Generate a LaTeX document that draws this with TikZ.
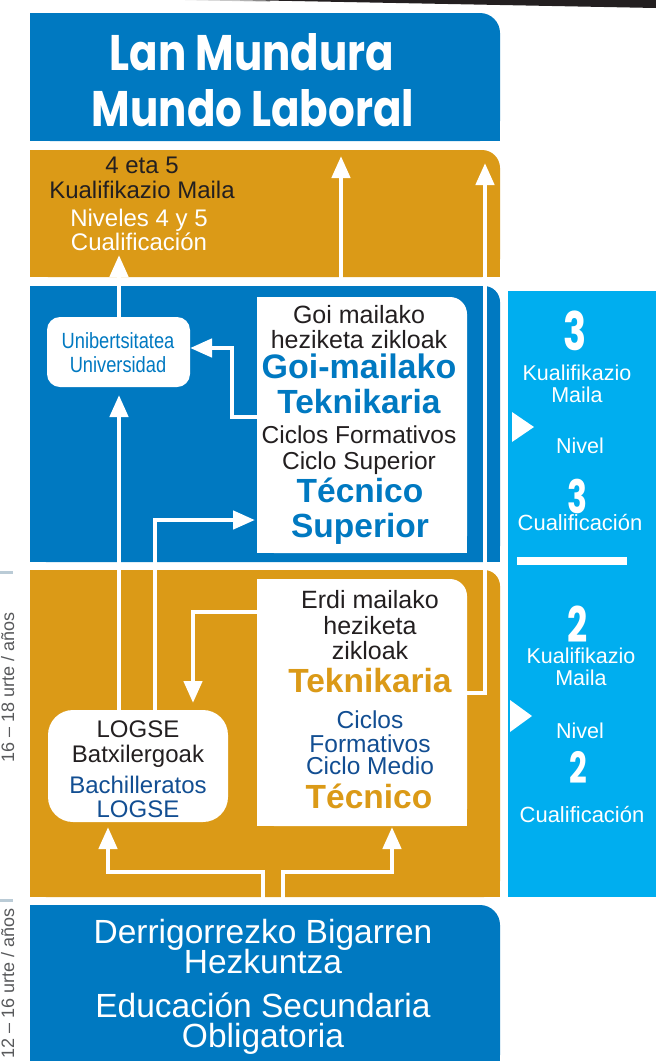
\documentclass[tikz,border=0pt]{standalone}
\usepackage{fontspec}
\usepackage{graphicx}
\setmainfont{Liberation Sans}
\newfontfamily\condfont[FakeStretch=0.83]{Liberation Sans}
\newfontfamily\dispfont{Poppins}
\usetikzlibrary{arrows.meta}
\newcommand\fsz[1]{\fontsize{#1}{#1}\selectfont}
\definecolor{dblue}{HTML}{0079C1}
\definecolor{gold}{HTML}{DB9A17}
\definecolor{lblue}{HTML}{00AEEF}
\definecolor{ink}{HTML}{231F20}
\definecolor{navy}{HTML}{124E92}
\definecolor{markc}{HTML}{BACBD6}
\definecolor{agegray}{HTML}{58595B}
\newcommand\trfill[3]{%
  \fill[#1] (#2.south west) rectangle ([xshift=-#3]#2.north east);
  \fill[#1] (#2.south west) rectangle ([yshift=-#3]#2.north east);
  \fill[#1,rounded corners=#3] (#2.south west) rectangle (#2.north east);}
\newcommand\dig[2]{{\dispfont\bfseries\fsz{#1}\scalebox{0.72}[1]{#2}}}
\begin{document}
\begin{tikzpicture}[x=1pt,y=-1pt,
  txt/.style={anchor=base,inner sep=0pt,outer sep=0pt},
  box/.style={anchor=north west,inner sep=0pt,outer sep=0pt,draw=none},
  flow/.style={draw=white,line width=4.5pt,line join=miter,-{Triangle[width=18pt,length=22pt]}},
  ink24/.style={txt,text=ink,font=\fsz{24}},
  ink25/.style={txt,text=ink,font=\fsz{25}},
  navy25/.style={txt,text=navy,font=\fsz{24.5}},
  wh24/.style={txt,text=white,font=\fsz{24}},
  wh22/.style={txt,text=white,font=\fsz{21.5}},
  bigb/.style={txt,text=dblue,font=\bfseries\fsz{33.5}},
  bigg/.style={txt,text=gold,font=\bfseries\fsz{33.5}},
  bot/.style={txt,text=white,font=\fsz{33.5},text height=24pt,text depth=5pt},
  digit/.style={txt,text=white,text depth=0pt},
  age/.style={anchor=base east,inner sep=0pt,rotate=90,text=agegray,font=\fsz{18}}]
\useasboundingbox (0,0) rectangle (656,1061);

% top dark stroke
\fill[gray!45] (185,0) -- (270,0) -- (270,1.8) -- cycle;
\fill[ink] (240,0) -- (656,0) -- (656,8) -- cycle;

% band boxes
\node[box,minimum width=470pt,minimum height=128pt] (title) at (30,13) {};
\trfill{dblue}{title}{20pt}
\node[box,minimum width=470pt,minimum height=127pt] (gold1) at (30,150) {};
\trfill{gold}{gold1}{18pt}
\node[box,minimum width=470pt,minimum height=276pt] (blue2) at (30,286) {};
\trfill{dblue}{blue2}{16pt}
\node[box,minimum width=470pt,minimum height=327pt] (gold3) at (30,570) {};
\trfill{gold}{gold3}{16pt}
\node[box,minimum width=470pt,minimum height=170pt] (blue4) at (30,905) {};
\trfill{dblue}{blue4}{20pt}
\node[box,minimum width=160pt,minimum height=606pt,fill=lblue] (col) at (508,291) {};

% left age markers
\draw[markc,line width=3pt] (0,572) -- (13,572);
\draw[markc,line width=3pt] (0,900) -- (13,900);
\node[age] (age1) at (14,612) {16 – 18 urte / años};
\node[age] (age2) at (14,908) {12 – 16 urte / años};

% white boxes
\node[box,minimum width=143pt,minimum height=70pt,fill=white,rounded corners=13pt] (uni) at (47,317) {};
\node[box,minimum width=210pt,minimum height=256pt] (goi) at (257,297) {};
\trfill{white}{goi}{17pt}
\node[box,minimum width=210pt,minimum height=247pt] (erdi) at (257,579) {};
\trfill{white}{erdi}{17pt}
\node[box,minimum width=180pt,minimum height=112pt,fill=white,rounded corners=25pt] (logse) at (48,710) {};

% title
\node[txt,text=white,font=\dispfont\bfseries\fsz{50}] (t1) at (252,70) {\scalebox{0.84}[1]{Lan Mundura}};
\node[txt,text=white,font=\dispfont\bfseries\fsz{50}] (t2) at (253,126) {\scalebox{0.84}[1]{Mundo Laboral}};

% gold1 texts
\node[ink24] (g1a) at (142,173) {4 eta 5};
\node[ink24] (g1b) at (142,198) {Kualifikazio Maila};
\node[wh24] (g1c) at (139,226) {Niveles 4 y 5};
\node[wh24] (g1d) at (139,250) {Cualificación};

% university
\node[txt,text=dblue,font=\condfont\fsz{22}] (u1) at (118,348) {Unibertsitatea};
\node[txt,text=dblue,font=\condfont\fsz{22}] (u2) at (118,372) {Universidad};

% goi box
\node[ink25] (gm1) at (359,323) {Goi mailako};
\node[ink25] (gm2) at (359,348) {heziketa zikloak};
\node[txt,text=dblue,font=\bfseries\fsz{34}] (gm3) at (359,378) {Goi-mailako};
\node[bigb] (gm4) at (359,413) {Teknikaria};
\node[txt,text=ink,font=\fsz{24.5}] (gm5) at (359,443) {Ciclos Formativos};
\node[txt,text=ink,font=\fsz{24.5}] (gm6) at (359,469) {Ciclo Superior};
\node[bigb] (gm7) at (360,502) {Técnico};
\node[bigb] (gm8) at (360,537) {Superior};

% erdi box
\node[ink25] (em1) at (370,608) {Erdi mailako};
\node[ink25] (em2) at (370,634) {heziketa};
\node[ink25] (em3) at (370,659) {zikloak};
\node[bigg] (em4) at (370,692) {Teknikaria};
\node[navy25] (em5) at (370,728) {Ciclos};
\node[navy25] (em6) at (370,752) {Formativos};
\node[navy25] (em7) at (370,774) {Ciclo Medio};
\node[bigg] (em8) at (369,808) {Técnico};

% logse box
\node[ink24] (l1) at (138,737) {LOGSE};
\node[ink24] (l2) at (138,762) {Batxilergoak};
\node[txt,text=navy,font=\fsz{24}] (l3) at (138,793) {Bachilleratos};
\node[txt,text=navy,font=\fsz{24}] (l4) at (138,817) {LOGSE};

% bottom
\node[bot] (b1) at (263,943) {Derrigorrezko Bigarren};
\node[bot] (b2) at (263,973) {Hezkuntza};
\node[bot] (b3) at (263,1017) {Educación Secundaria};
\node[bot] (b4) at (263,1047) {Obligatoria};

% right column
\node[digit] (c1) at (575,350) {\dig{53}{3}};
\node[wh22] (c2) at (577,380) {Kualifikazio};
\node[wh22] (c3) at (577,402) {Maila};
\fill[white] (512,412) -- (534,427) -- (512,442) -- cycle;
\node[wh22] (c4) at (580,453) {Nivel};
\node[digit] (c5) at (578,513) {\dig{46}{3}};
\node[txt,text=white,font=\fsz{22},text height=15pt] (c6) at (580,530) {Cualificación};
\fill[white] (517,557) rectangle (627,565);
\node[digit] (c7) at (578,642) {\dig{49}{2}};
\node[wh22,text height=15pt] (c8) at (581,663) {Kualifikazio};
\node[wh22] (c9) at (581,685) {Maila};
\fill[white] (510,700) -- (532,716) -- (510,732) -- cycle;
\node[wh22] (c10) at (580,738) {Nivel};
\node[digit] (c11) at (578,783) {\dig{43}{2}};
\node[txt,text=white,font=\fsz{22}] (c12) at (582,822) {Cualificación};

% helper coordinates
\coordinate (x108) at (108,0);
\coordinate (x119) at (119,0);
\coordinate (x155) at (155,0);
\coordinate (x193) at (193,0);
\coordinate (x232) at (232,0);
\coordinate (x263) at (263,0);
\coordinate (x283) at (283,0);
\coordinate (x392) at (392,0);
\coordinate (y348) at (0,348);
\coordinate (y417) at (0,417);
\coordinate (y520) at (0,520);
\coordinate (y612) at (0,612);
\coordinate (y693) at (0,693);
\coordinate (y872) at (0,872);
\coordinate (a2end) at (119,255);
\coordinate (a3end) at (341,156);
\coordinate (a4end) at (485,163);

% connectors
\draw[flow,shorten >=8pt] (logse.north -| x119) -- (uni.south -| x119);
\draw[flow] (uni.north -| x119) -- (a2end);
\draw[flow] (blue2.north -| a3end) -- (a3end);
\draw[flow] (erdi.east |- y693) -| (a4end);
\draw[flow,shorten >=7pt] (erdi.west |- y612) -| (logse.north -| x193);
\draw[flow] (goi.west |- y417) -| (x232 |- y348) -- (uni.east |- y348);
\draw[flow,shorten >=2pt] (logse.north -| x155) |- (goi.west |- y520);
\draw[flow,shorten >=5pt] (blue4.north -| x263) |- (x108 |- y872) -- (logse.south -| x108);
\draw[flow,shorten >=1pt] (blue4.north -| x283) |- (x392 |- y872) -- (erdi.south -| x392);
\end{tikzpicture}
\end{document}
